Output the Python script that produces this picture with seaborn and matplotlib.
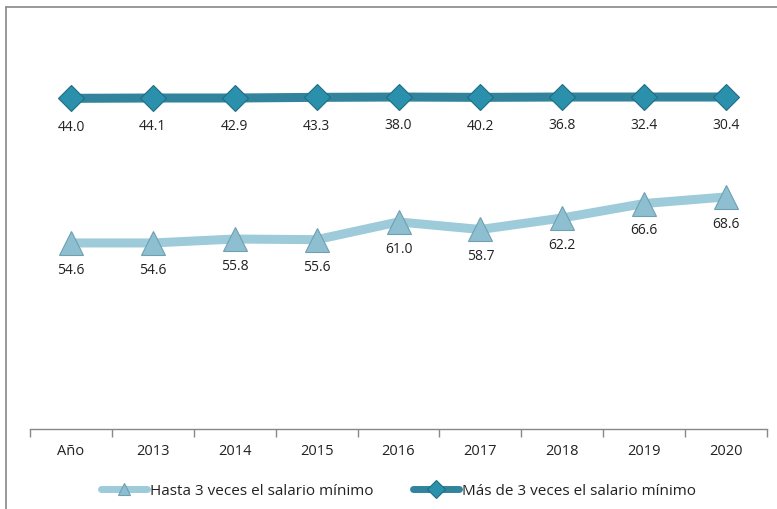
import matplotlib
matplotlib.use("Agg")
import matplotlib.pyplot as plt
import seaborn as sns
import pandas as pd

categories = ["Año", "2013", "2014", "2015", "2016", "2017", "2018", "2019", "2020"]
hasta_3 = [54.6, 54.6, 55.8, 55.6, 61.0, 58.7, 62.2, 66.6, 68.6]
mas_de_3 = [44.0, 44.1, 42.9, 43.3, 38.0, 40.2, 36.8, 32.4, 30.4]
series_names = ["Hasta 3 veces el salario mínimo", "Más de 3 veces el salario mínimo"]

sns.set_theme(style="white")
plt.rcParams['font.family'] = ['Open Sans', 'DejaVu Sans']

# stacked line chart: second series plotted on top of the first
stacked_top = [a + b for a, b in zip(hasta_3, mas_de_3)]
df1 = pd.DataFrame({"cat": categories, "val": hasta_3})
df2 = pd.DataFrame({"cat": categories, "val": stacked_top})

fig = plt.figure(figsize=(7.77, 5.10), dpi=100)
# outer chart border (top and left visible)
fig.add_artist(plt.Line2D([6/777, 1.0], [1 - 8/510, 1 - 8/510], color="#888888", lw=1.2))
fig.add_artist(plt.Line2D([6/777, 6/777], [0, 1 - 8/510], color="#888888", lw=1.2))

ax = fig.add_axes([30/777, 80/510, 737/777, 401/510])

light_line = "#9DCBDA"
dark_line = "#31849B"

sns.lineplot(data=df1, x="cat", y="val", ax=ax, color=light_line, lw=6.5,
             marker="^", markersize=17, markerfacecolor="#8EBFD0",
             markeredgecolor="#6F9FB0", markeredgewidth=0.8,
             label=series_names[0], sort=False)
sns.lineplot(data=df2, x="cat", y="val", ax=ax, color=dark_line, lw=6.5,
             marker="D", markersize=13, markerfacecolor="#2B90AC",
             markeredgecolor="#1E6D84", markeredgewidth=0.8,
             label=series_names[1], sort=False)

for i, (v, top, lab) in enumerate(zip(hasta_3, stacked_top, mas_de_3)):
    ax.annotate(f"{v:.1f}", (i, v), xytext=(0, -19), textcoords="offset points",
                ha="center", va="center", fontsize=10, color="#222222")
    ax.annotate(f"{lab:.1f}", (i, top), xytext=(0, -20), textcoords="offset points",
                ha="center", va="center", fontsize=10, color="#222222")

ax.set_xlim(-0.5, len(categories) - 0.5)
ax.set_ylim(-2, 120)
ax.set_xlabel("")
ax.set_ylabel("")
ax.set_yticks([])
for s in ["top", "right", "left"]:
    ax.spines[s].set_visible(False)
ax.spines["bottom"].set_color("#888888")
ax.spines["bottom"].set_linewidth(1)

ax.set_xticks(range(len(categories)))
ax.set_xticklabels(categories, fontsize=10.5, color="#222222")
ax.tick_params(axis="x", length=0, pad=10)
ax.set_xticks([i - 0.5 for i in range(len(categories) + 1)], minor=True)
ax.tick_params(axis="x", which="minor", length=6, color="#888888", width=1, direction="out", bottom=True)

leg = ax.legend(loc="upper center", bbox_to_anchor=(0.5, -0.1), ncol=2, frameon=False,
                fontsize=11, handlelength=3.0, handletextpad=0.2, columnspacing=2.6)
for t in leg.get_texts():
    t.set_color("#222222")
for h in leg.legend_handles:
    h.set_markersize(9)
    h.set_linewidth(5)

fig.savefig("out.png", dpi=100, facecolor="white")
